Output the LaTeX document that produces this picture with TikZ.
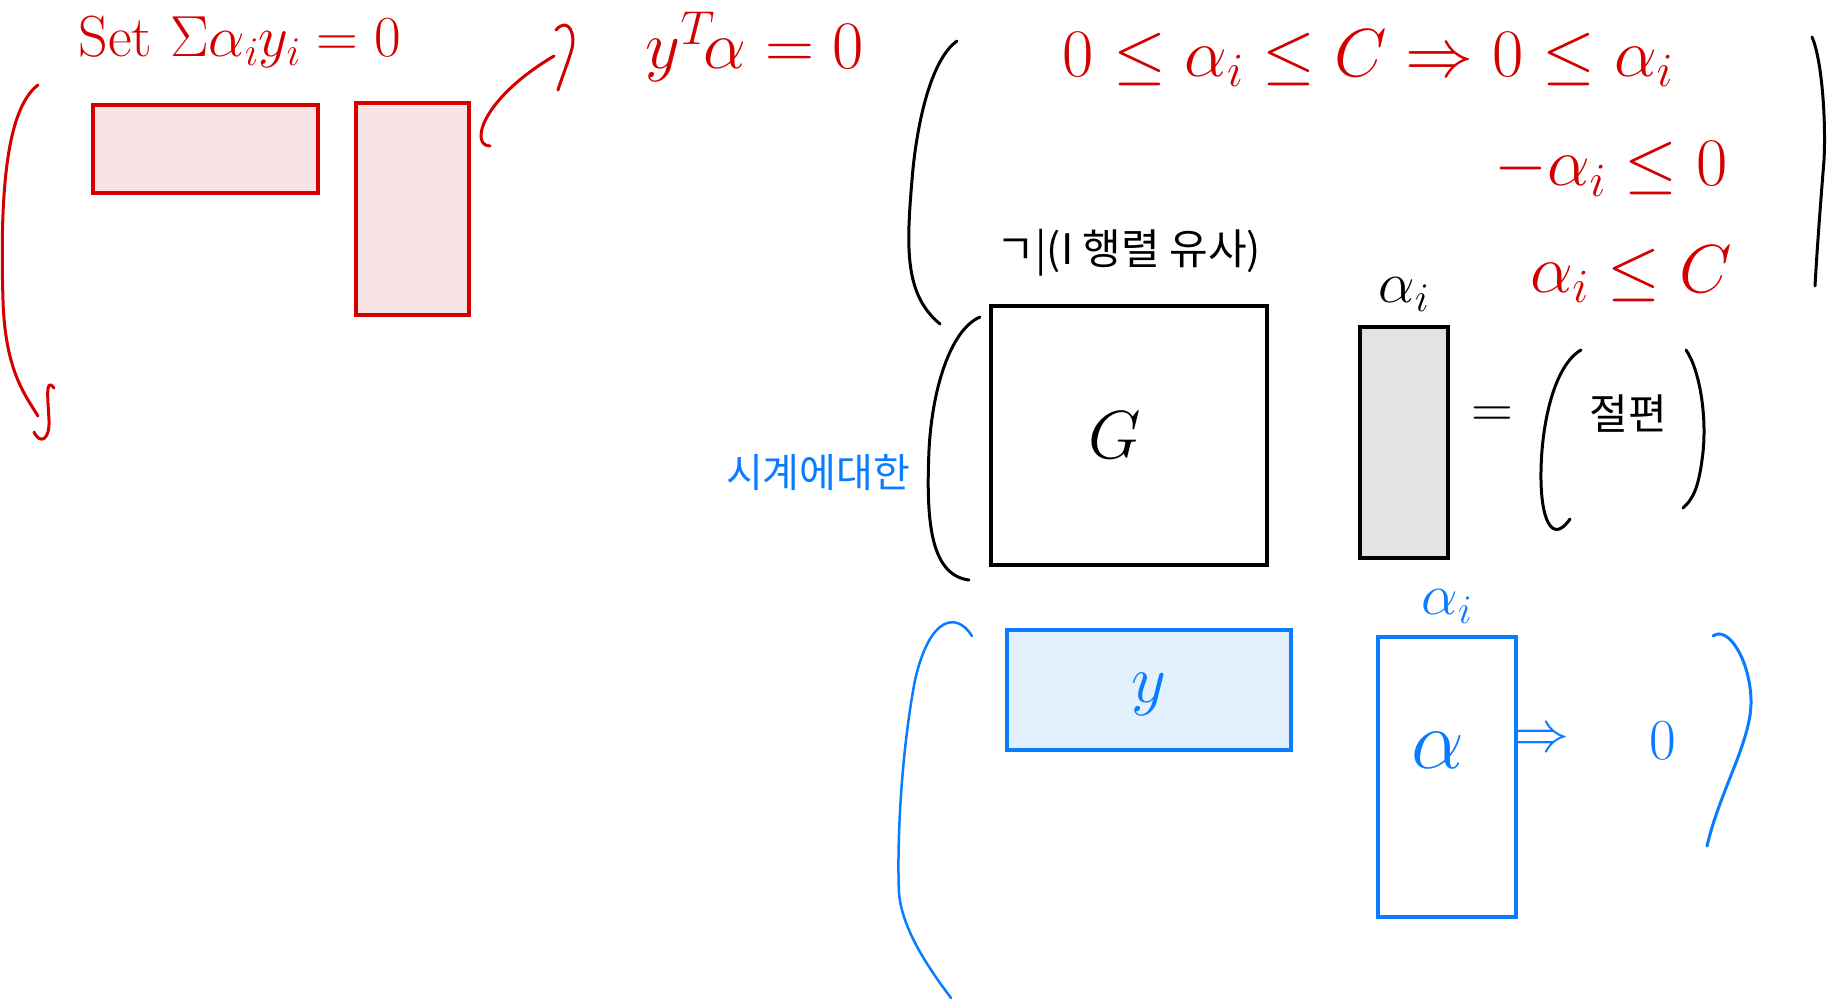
\documentclass[tikz,border=0pt]{standalone}
\usepackage{fix-cm}
\usepackage{fontspec}
\newfontfamily\kofont{Noto Sans CJK KR}
\usetikzlibrary{positioning}

\definecolor{penred}{HTML}{D40000}
\definecolor{redfill}{HTML}{F8E4E4}
\definecolor{penblue}{HTML}{0A7CFF}
\definecolor{bluefill}{HTML}{E3F0FD}
\definecolor{grayfill}{HTML}{E3E3E3}

\begin{document}
\begin{tikzpicture}[x=1pt, y=-1pt,
    pen/.style={line width=3pt, line cap=round, line join=round},
    matbox/.style={inner sep=0pt, line width=3.5pt},
    hand/.style={inner sep=0pt, font=\fontsize{58}{64}\selectfont},
    bighand/.style={inner sep=0pt, font=\fontsize{68}{76}\selectfont},
    kohand/.style={inner sep=0pt, font=\kofont\fontsize{42}{48}\selectfont}]
    \useasboundingbox (0,0) rectangle (1830,1000);

    % red part: y^T alpha = 0
    \node [hand, text=penred] (setsum) at (240,42) {Set $\Sigma\alpha_i y_i=0$};
    \node [bighand, text=penred] (yta) at (755,47) {$y^{T}\!\alpha=0$};
    \node [matbox, draw=penred, fill=redfill, minimum width=225pt, minimum height=88pt] (yrow) at (205.5,149) {};
    \node [matbox, draw=penred, fill=redfill, minimum width=113pt, minimum height=212pt] (acol) at (412.5,209) {};

    \draw [pen, penred] (38,85) .. controls (5,110) and (0,200) .. (3,300) .. controls (5,370) and (25,395) .. (38,416);
    \draw [pen, penred] (54,388) .. controls (45,376) and (48,400) .. (49,420) .. controls (50,440) and (40,445) .. (34,432);
    \draw [pen, penred] (490,146) .. controls (470,146) and (480,100) .. (554,56);
    \draw [pen, penred] (556,30) .. controls (568,16) and (577,34) .. (571,52) .. controls (566,68) and (561,80) .. (558,90);

    % red part: box constraint
    \node [bighand, text=penred] (boxc) at (1368,58) {$0\le\alpha_i\le C \Rightarrow 0\le\alpha_i$};
    \node [bighand, text=penred] (lowc) at (1611,169) {$-\alpha_i\le 0$};
    \node [bighand, text=penred] (upc) at (1631,274) {$\alpha_i\le C$};

    \draw [pen] (957,41) .. controls (930,60) and (916,128) .. (912,180) .. controls (906,250) and (905,295) .. (940,324);
    \draw [pen] (1812,37) .. controls (1822,60) and (1826,120) .. (1824,160) .. controls (1820,210) and (1817,250) .. (1815,286);

    % black part: G alpha <= h
    \node [matbox, draw=black, fill=white, minimum width=276pt, minimum height=259pt] (gmat) at (1129,435.5) {};
    \node [bighand] (glabel) at (gmat.center) [xshift=-14pt] {$G$};
    \node [kohand, above=28pt of gmat] (gnote) {ㄱ|(I 행렬 유사)};
    \node [matbox, draw=black, fill=grayfill, minimum width=88pt, minimum height=231pt] (avec) at (1404,442.5) {};
    \node [hand, above=14pt of avec] (alabel) {$\alpha_i$};
    \node [hand] (eqsign) at (1492,417) {$=$};
    \node [kohand] (hnote) at (1628,414) {절편};

    \draw [pen] (980,317) .. controls (950,330) and (932,390) .. (929,450) .. controls (926,520) and (930,575) .. (969,580);
    \draw [pen] (1581,350) .. controls (1555,365) and (1542,420) .. (1541,470) .. controls (1540,520) and (1552,545) .. (1570,519);
    \draw [pen] (1686,350) .. controls (1700,370) and (1708,420) .. (1702,460) .. controls (1698,490) and (1692,500) .. (1683,508);

    % blue part
    \node [kohand, text=penblue, font=\kofont\fontsize{40}{46}\selectfont] (bnote) at (818,473) {시계에대한};
    \node [matbox, draw=penblue, fill=bluefill, minimum width=284pt, minimum height=120pt] (ymat) at (1149,690) {};
    \node [bighand, text=penblue] (ylabel) at (ymat.center) [yshift=-4pt] {$y$};
    \node [matbox, draw=penblue, fill=white, minimum width=138pt, minimum height=280pt] (bvec) at (1447,777) {};
    \node [hand, text=penblue, above=12pt of bvec] (blabel) {$\alpha_i$};
    \node [bighand, text=penblue, font=\fontsize{84}{90}\selectfont] (bvlabel) at (1438,750) {$\alpha$};
    \node [hand, text=penblue] (bimp) at (1540,741) {$\Rightarrow$};
    \node [hand, text=penblue] (bzero) at (1663,741) {$0$};

    \draw [pen, penblue, line width=2.5pt] (972,636) .. controls (957,612) and (930,615) .. (915,680) .. controls (900,760) and (897,850) .. (899,893) .. controls (902,930) and (930,970) .. (951,998);
    \draw [pen, penblue] (1713,636) .. controls (1728,625) and (1750,660) .. (1751,700) .. controls (1752,740) and (1720,790) .. (1707,846);
\end{tikzpicture}
\end{document}
